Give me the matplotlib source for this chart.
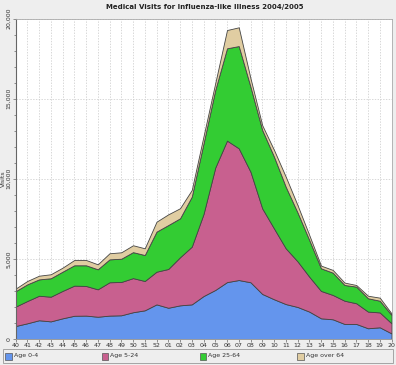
import matplotlib
matplotlib.use("Agg")
import matplotlib.pyplot as plt
from matplotlib.patches import Rectangle
from matplotlib.ticker import MultipleLocator, FuncFormatter
import numpy as np

weeks = ["40", "41", "42", "43", "44", "45", "46", "47", "48", "49", "50", "51", "52",
         "01", "02", "03", "04", "05", "06", "07", "08", "09", "10", "11", "12",
         "13", "14", "15", "16", "17", "18", "19", "20"]

age_0_4 = [810, 980, 1170, 1100, 1290, 1450, 1460, 1390, 1460, 1480, 1670, 1790, 2160,
           1950, 2100, 2160, 2680, 3060, 3550, 3680, 3540, 2810, 2480, 2180, 2000,
           1710, 1290, 1230, 940, 940, 670, 730, 350]
age_5_24 = [1210, 1390, 1530, 1540, 1710, 1880, 1850, 1710, 2080, 2080, 2130, 1830, 2040,
            2420, 3000, 3600, 5120, 7640, 8830, 8220, 6900, 5340, 4420, 3480, 2850,
            2180, 1710, 1520, 1450, 1290, 1040, 930, 630]
age_25_64 = [960, 1040, 1020, 1150, 1200, 1270, 1290, 1250, 1430, 1450, 1620, 1620, 2500,
             2740, 2430, 3120, 4400, 4840, 5760, 6380, 5300, 4890, 4480, 3840, 3050,
             2290, 1410, 1390, 980, 1040, 830, 730, 520]
age_over_64 = [160, 210, 230, 250, 250, 330, 330, 310, 380, 400, 430, 420, 620,
               670, 630, 420, 450, 430, 1140, 1170, 530, 300, 420, 630, 460,
               310, 170, 170, 150, 100, 160, 190, 100]

series_labels = ["Age 0-4", "Age 5-24", "Age 25-64", "Age over 64"]
colors = ["#6495ED", "#C8608F", "#33CC33", "#E0CDA2"]

W, H = 396, 365
fig = plt.figure(figsize=(W / 100, H / 100), dpi=100)
fig.patch.set_facecolor("#EEEEEE")

ax = fig.add_axes([15.5 / W, 1 - 339 / H, (391.5 - 15.5) / W, (339 - 18.5) / H])
ax.set_facecolor("white")

x = np.arange(len(weeks))
ax.stackplot(x, age_0_4, age_5_24, age_25_64, age_over_64, colors=colors,
             edgecolor="#444444", linewidth=0.6, zorder=2)

ax.set_xlim(0, len(weeks) - 1)
ax.set_ylim(0, 20000)

ax.set_xticks(x)
ax.set_xticklabels(weeks, fontsize=4.5, color="#333333")
ax.yaxis.set_major_locator(MultipleLocator(5000))
ax.yaxis.set_minor_locator(MultipleLocator(1000))
ax.yaxis.set_major_formatter(FuncFormatter(lambda v, p: f"{int(v):,}"))
ax.tick_params(axis="y", labelsize=4.5, labelcolor="#333333", length=2, width=0.5,
               color="#666666", pad=1)
ax.tick_params(axis="y", which="minor", length=1.5, width=0.5, color="#666666")
ax.tick_params(axis="x", length=2, width=0.5, color="#666666", pad=1)
plt.setp(ax.get_yticklabels(), rotation=90, va="center")

ax.grid(True, which="major", color="#C8C8C8", linestyle=(0, (2, 2)), linewidth=0.5, zorder=0)
ax.set_axisbelow(True)

for s in ["top", "right", "bottom"]:
    ax.spines[s].set_color("#AAAAAA")
    ax.spines[s].set_linewidth(0.6)
ax.spines["left"].set_color("#666666")
ax.spines["left"].set_linewidth(0.8)

ax.set_xlabel("Weeks", fontsize=4.5, labelpad=0.5, color="#333333")
ax.set_ylabel("Visits", fontsize=4.5, labelpad=0.5, color="#333333")

fig.text(205 / W, 1 - 6.5 / H, "Medical Visits for Influenza-like Illness 2004/2005",
         fontsize=5, fontweight="bold", ha="center", va="center", color="#222222")

# legend drawn as a JFreeChart-style strip
fig.patches.append(Rectangle((3 / W, 1 - 362.5 / H), 389.5 / W, 13.5 / H,
                             transform=fig.transFigure, facecolor="#EEEEEE",
                             edgecolor="#999999", linewidth=0.6))
legend_x = [5, 101.5, 199.5, 297]
for lx, c, lab in zip(legend_x, colors, series_labels):
    fig.patches.append(Rectangle((lx / W, 1 - 359.5 / H), 6.5 / W, 7 / H,
                                 transform=fig.transFigure, facecolor=c,
                                 edgecolor="#555555", linewidth=0.5))
    fig.text((lx + 9) / W, 1 - 356 / H, lab, fontsize=4.5, ha="left", va="center",
             color="#333333")

fig.savefig("out.png", dpi=100, facecolor=fig.get_facecolor())
